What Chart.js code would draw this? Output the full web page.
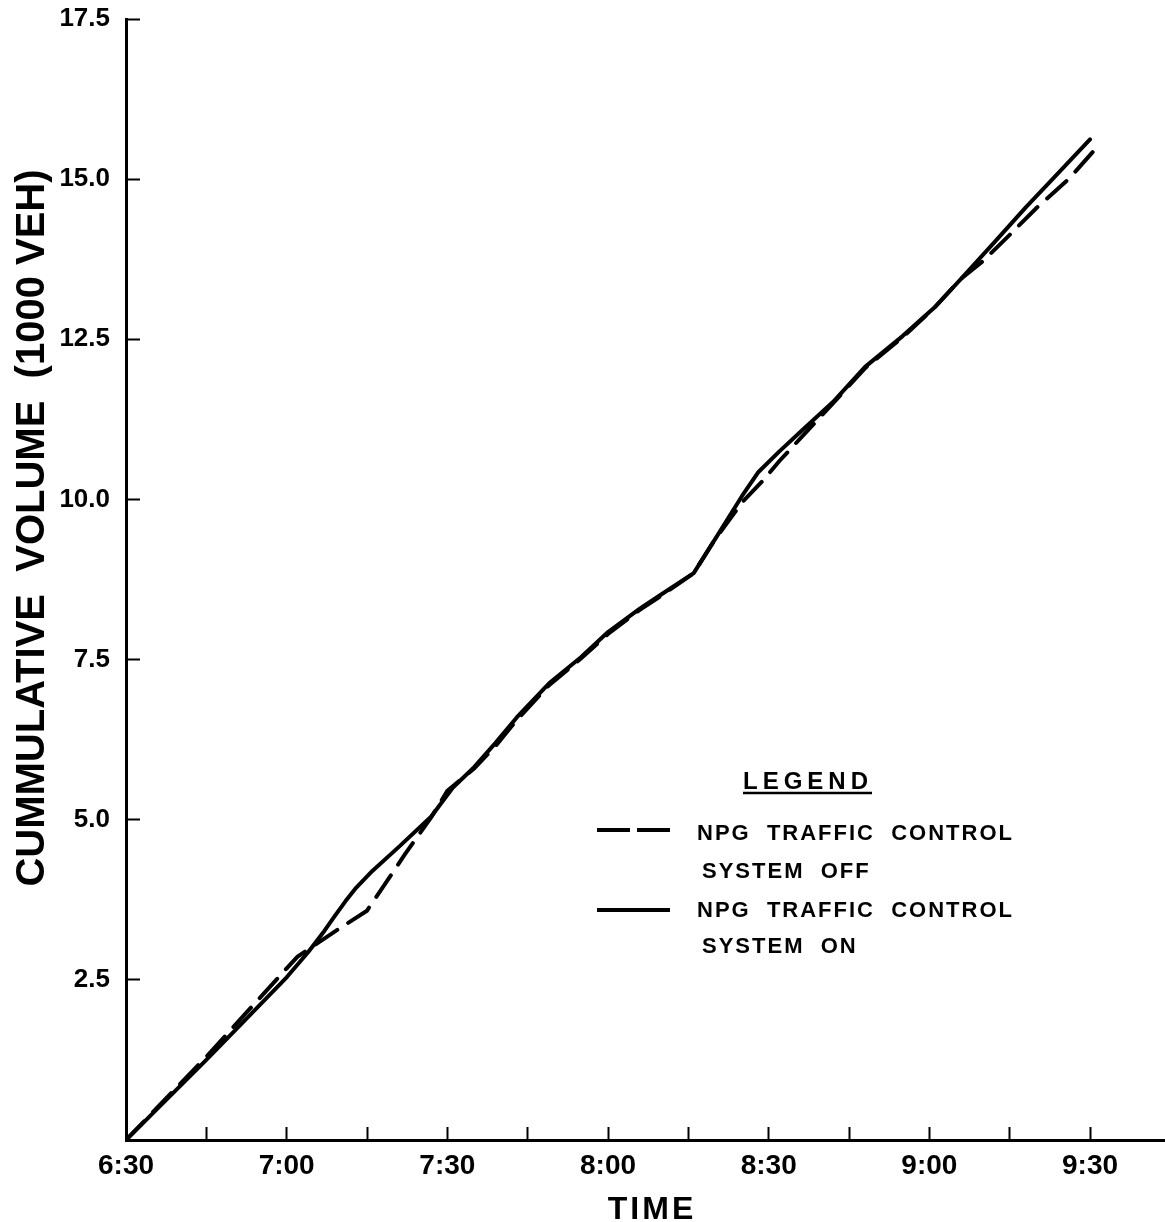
<!DOCTYPE html>
<html lang="en">
<head>
    <meta charset="UTF-8">
    <title>Cummulative Volume - NPG Traffic Control</title>
    <script src="https://cdn.jsdelivr.net/npm/chart.js"></script>
    <style>
        body { margin: 0; background: #fff; }
    </style>
</head>
<body>
    <canvas id="volumeChart" width="1165" height="1222"></canvas>

    <script>
        // minutes after 6:30, cumulative volume in 1000 veh
        const offTimes   = [0, 15, 30, 32, 40, 45, 48, 52, 57, 60, 65, 69, 73, 79, 85, 90, 96, 100, 106, 110, 115, 119, 122, 127, 132, 138, 145, 151, 156, 160, 165, 170, 176, 181];
        const offVolumes = [0, 1.3, 2.68, 2.86, 3.31, 3.58, 3.95, 4.45, 5.04, 5.45, 5.8, 6.15, 6.56, 7.1, 7.52, 7.9, 8.28, 8.5, 8.85, 9.38, 9.95, 10.3, 10.6, 11.05, 11.5, 12.05, 12.53, 13.0, 13.45, 13.72, 14.13, 14.55, 15.0, 15.47];

        const onTimes   = [0, 15, 30, 34, 37, 39, 41, 43, 46, 51, 57, 61, 65, 69, 73, 79, 85, 90, 96, 100, 106, 110, 115, 118, 122, 126, 132, 138, 145, 151, 156, 162, 168, 173, 180];
        const onVolumes = [0, 1.25, 2.54, 2.93, 3.26, 3.5, 3.73, 3.94, 4.2, 4.58, 5.05, 5.5, 5.82, 6.2, 6.6, 7.13, 7.54, 7.93, 8.3, 8.52, 8.85, 9.38, 10.05, 10.42, 10.75, 11.06, 11.52, 12.07, 12.55, 13.0, 13.45, 14.0, 14.56, 15.0, 15.62];

        const timeLabels = ['6:30', '7:00', '7:30', '8:00', '8:30', '9:00', '9:30'];

        const seriesNames = ['NPG TRAFFIC CONTROL SYSTEM OFF', 'NPG TRAFFIC CONTROL SYSTEM ON'];

        function toPoints(xs, ys) {
            return xs.map((x, i) => ({ x: x, y: ys[i] }));
        }

        // titles and legend box, drawn on top of the chart
        const decorations = {
            id: 'decorations',
            afterDraw(chart) {
                const ctx = chart.ctx;
                ctx.save();
                ctx.fillStyle = '#000';
                ctx.strokeStyle = '#000';

                // y title
                ctx.save();
                ctx.translate(33, 528);
                ctx.rotate(-Math.PI / 2);
                ctx.font = 'bold 40px "Liberation Sans", Arial, sans-serif';
                ctx.textAlign = 'center';
                ctx.textBaseline = 'middle';
                ctx.fillText('CUMMULATIVE  VOLUME  (1000 VEH)', 0, 0);
                ctx.restore();

                // x title
                ctx.font = 'bold 32px "Liberation Sans", Arial, sans-serif';
                ctx.letterSpacing = '3px';
                ctx.textAlign = 'center';
                ctx.textBaseline = 'alphabetic';
                ctx.fillText('TIME', 652, 1219);

                // legend
                ctx.textAlign = 'left';
                ctx.font = 'bold 24px "Liberation Sans", Arial, sans-serif';
                ctx.letterSpacing = '5px';
                ctx.fillText('LEGEND', 743, 789);
                ctx.lineWidth = 2.5;
                ctx.beginPath();
                ctx.moveTo(743, 793);
                ctx.lineTo(872, 793);
                ctx.stroke();

                ctx.font = 'bold 22px "Liberation Sans", Arial, sans-serif';
                ctx.letterSpacing = '2px';
                ctx.fillText('NPG  TRAFFIC  CONTROL', 697, 840);
                ctx.fillText('SYSTEM  OFF', 702, 878);
                ctx.fillText('NPG  TRAFFIC  CONTROL', 697, 917);
                ctx.fillText('SYSTEM  ON', 702, 953);

                ctx.lineWidth = 4;
                ctx.setLineDash([33, 7]);
                ctx.beginPath();
                ctx.moveTo(597, 830);
                ctx.lineTo(670, 830);
                ctx.stroke();
                ctx.setLineDash([]);
                ctx.beginPath();
                ctx.moveTo(597, 910);
                ctx.lineTo(670, 910);
                ctx.stroke();

                ctx.restore();
            }
        };

        const ctx = document.getElementById('volumeChart').getContext('2d');
        new Chart(ctx, {
            type: 'line',
            data: {
                datasets: [{
                    label: seriesNames[0],
                    data: toPoints(offTimes, offVolumes),
                    borderColor: '#000',
                    borderWidth: 4,
                    borderDash: [26, 13],
                    borderCapStyle: 'round',
                    pointRadius: 0,
                    tension: 0
                }, {
                    label: seriesNames[1],
                    data: toPoints(onTimes, onVolumes),
                    borderColor: '#000',
                    borderWidth: 4,
                    borderCapStyle: 'round',
                    borderJoinStyle: 'round',
                    pointRadius: 0,
                    tension: 0
                }]
            },
            options: {
                responsive: false,
                animation: false,
                layout: { padding: { top: 19, right: 0, bottom: 0, left: 0 } },
                plugins: {
                    legend: { display: false },
                    tooltip: { enabled: false }
                },
                scales: {
                    x: {
                        type: 'linear',
                        min: 0,
                        max: 194,
                        afterFit(scale) {
                            scale.height = 82;
                            scale.paddingLeft = 0;
                            scale.paddingRight = 0;
                        },
                        border: { color: '#000', width: 3 },
                        grid: {
                            drawOnChartArea: false,
                            tickLength: -13,
                            tickColor: '#000',
                            tickWidth: 2
                        },
                        ticks: {
                            stepSize: 15,
                            includeBounds: false,
                            autoSkip: false,
                            maxRotation: 0,
                            padding: 22,
                            color: '#000',
                            font: { family: '"Liberation Sans", Arial, sans-serif', size: 28, weight: 'bold' },
                            callback: (v) => (v % 30 === 0 ? timeLabels[v / 30] : '')
                        }
                    },
                    y: {
                        min: 0,
                        max: 17.5,
                        afterFit(scale) {
                            scale.width = 126;
                            scale.paddingTop = 0;
                            scale.paddingBottom = 0;
                        },
                        border: { color: '#000', width: 3 },
                        grid: {
                            drawOnChartArea: false,
                            tickLength: -14,
                            tickColor: '#000',
                            tickWidth: 2
                        },
                        ticks: {
                            stepSize: 2.5,
                            padding: 30,
                            color: '#000',
                            font: { family: '"Liberation Sans", Arial, sans-serif', size: 26, weight: 'bold' },
                            callback: (v) => (v === 0 ? '' : v.toFixed(1))
                        }
                    }
                }
            },
            plugins: [decorations]
        });
    </script>
</body>
</html>
